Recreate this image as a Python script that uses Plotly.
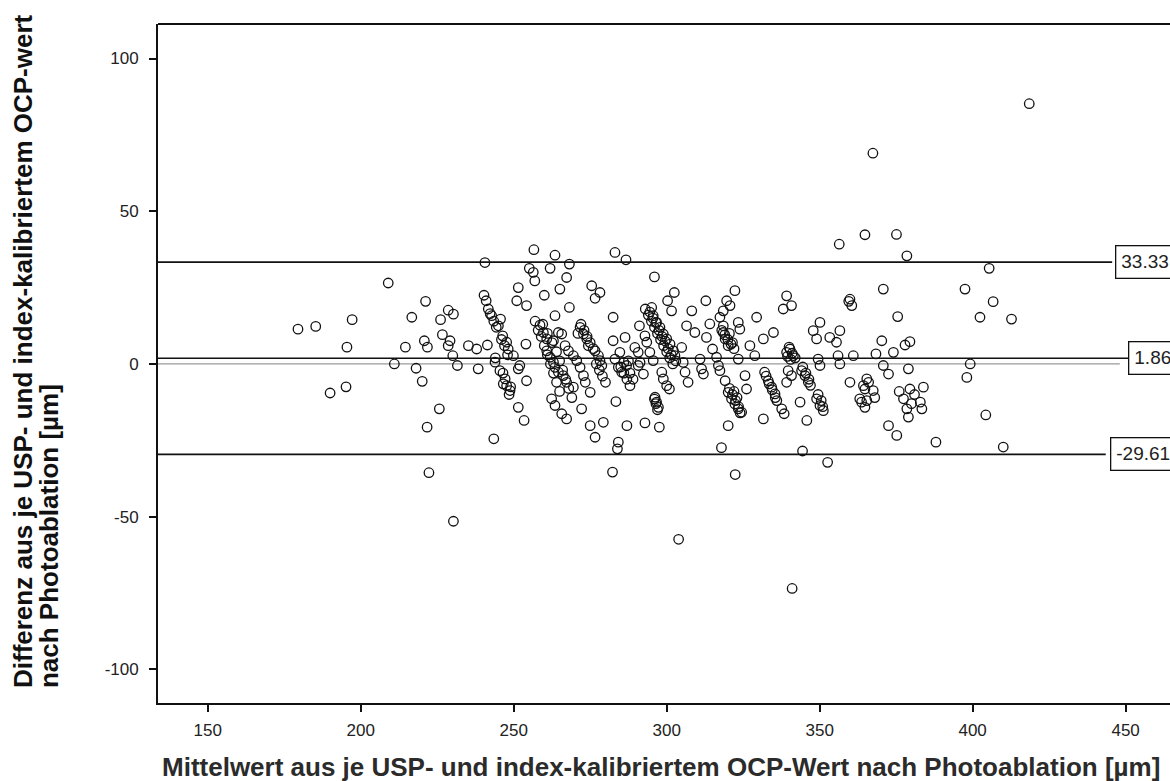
import plotly.graph_objects as go

# Bland-Altman: mean of the two OCP readings (x) vs. their difference (y), in µm
mean_left = [179.5, 185.3, 190.0, 195.2, 195.5, 197.2, 209.0, 211.0, 214.6, 216.7,
             218.1, 220.1, 220.8, 221.2, 221.7, 221.8, 222.3, 225.7, 226.1, 226.7,
             228.6, 228.6, 229.2, 230.1, 230.3, 230.3, 231.6, 235.2, 237.9, 238.4]
diff_left = [11.4, 12.3, -9.5, -7.5, 5.5, 14.5, 26.5, 0.0, 5.5, 15.3,
             -1.4, -5.7, 7.6, 20.5, -20.7, 5.5, -35.6, -14.7, 14.5, 9.6,
             17.6, 6.0, 7.6, 2.7, 16.3, -51.5, -0.5, 6.0, 4.9, -1.6]

mean_a = [240.6, 240.3, 241.0, 241.7, 242.8, 245.7, 245.0, 246.4, 247.7, 241.4,
          248.2, 249.9, 243.9, 245.5, 247.2, 246.6, 248.8, 247.7, 251.5, 252.0,
          254.2, 254.0, 251.5, 251.0, 254.2, 251.5, 253.4, 243.5, 242.3, 243.5,
          244.3, 246.0, 247.0, 248.0, 244.0, 246.5, 249.0, 248.5]
diff_a = [33.2, 22.5, 20.7, 18.0, 15.8, 14.7, 12.5, 9.2, 7.1, 6.2,
          4.9, 2.7, 0.6, -2.2, -4.9, -6.5, -8.7, -7.1, -1.6, -0.5,
          -5.5, 6.5, 25.0, 20.7, 19.1, -14.2, -18.5, -24.5, 16.5, 14.0,
          12.0, 8.0, 6.0, 3.0, 2.0, -3.0, -7.5, -10.0]

mean_b = [256.6, 255.1, 256.4, 256.9, 261.9, 263.5, 268.2, 267.3, 265.1, 260.0,
          268.2, 263.5, 258.6, 259.7, 260.8, 263.0, 264.6, 265.7, 266.8, 267.9,
          269.5, 260.8, 261.9, 263.0, 263.5, 264.6, 266.2, 267.3, 269.5, 262.4,
          263.5, 265.7, 267.3, 257.0, 258.0, 259.0, 260.0, 261.0, 262.0, 263.0,
          264.0, 265.0, 259.5, 261.0, 262.5, 264.0, 265.0, 266.0, 267.0, 268.0,
          269.0]
diff_b = [37.4, 31.3, 30.0, 27.2, 31.3, 35.6, 32.7, 28.3, 24.5, 22.5,
          18.5, 15.8, 12.7, 10.3, 8.2, 7.6, 10.3, 9.8, 6.0, 4.3,
          2.7, 4.3, 2.2, 0.5, -1.1, -2.7, -3.8, -6.0, -7.6, -11.4,
          -13.6, -16.3, -18.0, 14.0, 11.0, 9.0, 6.0, 3.0, 0.0, -3.0,
          -6.0, -9.0, 13.0, 10.0, 7.0, 4.0, 1.0, -2.0, -5.0, -8.0,
          -11.0]

mean_c = [271.7, 272.8, 273.9, 274.4, 270.6, 271.7, 272.8, 273.4, 275.0, 272.2,
          275.0, 276.6, 279.3, 284.2, 283.9, 282.3, 275.5, 278.2, 276.6, 282.5,
          276.6, 277.7, 278.2, 278.8, 282.5, 284.7, 283.1, 284.2, 285.3, 283.4,
          287.0, 283.1, 286.7, 286.4, 289.6, 290.7, 286.9, 290.7, 288.0, 272.0,
          273.0, 274.0, 275.0, 276.0, 271.0, 278.0, 279.0, 280.0, 277.0, 285.0,
          286.0, 287.0, 286.0, 288.0, 289.0, 287.5]
diff_c = [12.0, 9.8, 8.2, 6.0, 1.1, -1.1, -3.8, -6.0, -9.3, -14.7,
          -20.2, -24.0, -19.1, -25.6, -27.8, -35.4, 25.6, 23.4, 21.5, 15.3,
          4.3, 2.7, 1.1, -0.5, 7.6, 3.8, 1.6, -1.1, -2.7, -12.3,
          -20.2, 36.5, 34.1, 8.7, 5.4, 3.8, -0.5, -0.5, -7.1, 13.0,
          11.0, 9.0, 7.0, 5.0, 10.0, -2.0, -4.0, -6.0, 0.0, -1.0,
          -3.0, -5.0, 0.5, -3.0, -5.0, 1.0]

mean_d = [296.0, 302.5, 300.3, 301.6, 295.1, 295.6, 296.7, 297.8, 298.9, 300.0,
          301.1, 302.2, 302.7, 291.1, 292.9, 293.5, 294.5, 291.3, 295.6, 292.4,
          298.4, 298.9, 300.0, 300.9, 296.2, 296.7, 297.3, 292.9, 297.6, 304.9,
          305.4, 306.0, 307.0, 306.5, 308.2, 312.8, 309.2, 310.9, 311.4, 312.0,
          313.0, 314.1, 303.9, 293.0, 294.0, 295.0, 296.0, 297.0, 298.0, 299.0,
          300.0, 301.0, 302.0, 294.5, 295.5, 296.5, 297.5, 298.5, 299.5, 300.5,
          301.5, 303.0, 296.0, 296.5, 297.0]
diff_d = [28.5, 23.4, 20.7, 17.4, 18.5, 15.8, 13.6, 12.0, 9.8, 8.2,
          6.5, 4.3, 2.7, 12.5, 9.2, 7.1, 3.8, 0.5, 1.1, -3.3,
          -2.7, -4.9, -7.1, -8.2, -10.9, -12.5, -14.2, -19.3, -20.7, 5.4,
          0.5, -2.7, -6.0, 12.5, 17.4, 20.7, 10.3, 1.6, -1.6, -3.3,
          8.7, 13.1, -57.4, 18.0, 16.0, 14.0, 12.0, 10.0, 8.0, 6.0,
          4.0, 2.0, 0.0, 17.0, 15.0, 13.5, 11.0, 9.0, 7.5, 5.0,
          3.0, 1.0, -11.5, -13.0, -15.0]

mean_e = [315.0, 316.3, 316.9, 317.4, 319.1, 320.1, 321.2, 322.3, 323.4, 324.5,
          320.1, 317.9, 322.4, 317.4, 318.5, 319.6, 322.3, 320.7, 318.5, 319.1,
          320.1, 323.4, 323.9, 323.4, 325.6, 326.1, 327.2, 329.4, 328.8, 331.6,
          334.9, 332.0, 333.2, 334.3, 335.4, 336.0, 337.6, 331.6, 338.4, 339.2,
          340.3, 341.4, 339.7, 340.8, 339.2, 338.1, 339.2, 340.8, 344.1, 341.0,
          318.0, 319.0, 320.0, 321.0, 322.0, 318.5, 320.5, 321.5, 320.5, 321.5,
          322.5, 323.5, 324.0, 322.0, 323.0, 332.5, 333.5, 334.5, 335.5, 340.0,
          341.0, 342.0, 340.5, 339.5]
diff_e = [4.9, 2.2, -0.5, -2.2, -5.5, -9.3, -11.4, -13.1, -14.7, -15.8,
          -20.2, -27.4, -36.2, 15.3, 17.4, 20.7, 24.0, 19.1, 10.3, 8.2,
          6.0, 13.6, 11.4, 1.6, -3.8, -8.2, 6.0, 15.3, 2.7, 8.2,
          10.3, -2.7, -5.5, -7.6, -9.8, -12.0, -14.7, -18.0, -16.3, 3.8,
          4.9, 2.7, -2.2, -3.8, -6.0, 18.0, 22.3, 19.1, -2.2, -73.5,
          11.0, 9.5, 8.0, 6.5, 5.0, 12.5, 10.0, 7.0, -8.0, -10.0,
          -12.0, -14.0, -16.0, -9.0, -11.0, -4.0, -6.5, -8.5, -11.0, 5.5,
          3.5, 2.0, 1.5, 2.5]

mean_f = [345.2, 346.3, 343.6, 345.8, 344.4, 347.9, 350.1, 349.0, 349.5, 350.1,
          349.0, 350.1, 351.2, 352.6, 353.3, 356.6, 355.5, 356.0, 356.6, 359.9,
          360.5, 361.0, 359.9, 365.4, 364.3, 363.7, 365.4, 364.8, 356.4, 364.8,
          367.4, 364.8, 367.5, 363.1, 368.4, 344.5, 345.5, 346.5, 347.0, 349.5,
          350.5, 351.0, 359.5]
diff_f = [-3.8, -6.0, -12.5, -18.5, -28.5, 10.9, 13.6, 8.2, 1.6, -0.5,
          -11.4, -13.6, -15.3, -32.2, 8.7, 10.9, 7.1, 2.7, 0.0, 21.2,
          19.1, 2.7, -6.0, -4.9, -7.1, -12.5, -12.0, -14.2, 39.2, 42.3,
          69.0, -8.2, -8.7, -11.4, 3.3, -1.0, -3.0, -5.0, -7.0, -10.0,
          -12.0, -14.0, 20.5]

mean_g = [370.8, 375.1, 378.5, 375.5, 379.5, 377.9, 370.3, 374.1, 370.8, 372.5,
          379.0, 383.9, 379.5, 377.4, 382.9, 378.5, 383.4, 379.0, 372.5, 375.2,
          388.0, 397.5, 399.2, 398.1, 402.4, 405.4, 406.7, 404.3, 410.0, 412.7,
          418.5, 366.0, 368.0, 376.0, 381.0, 380.0]
diff_g = [24.5, 42.4, 35.4, 15.5, 7.3, 6.2, 7.6, 3.8, -0.5, -3.3,
          -1.6, -7.6, -8.2, -11.4, -12.5, -14.7, -14.7, -17.4, -20.2, -23.4,
          -25.6, 24.5, 0.0, -4.4, 15.3, 31.3, 20.4, -16.7, -27.2, 14.7,
          85.2, -6.0, -11.0, -9.0, -10.0, -13.0]

# Mean difference and limits of agreement
mean_difference = 1.86
upper_limit = 33.33
lower_limit = -29.61

x_tick_values = [150, 200, 250, 300, 350, 400, 450]
y_tick_values = [-100, -50, 0, 50, 100]
y_tick_labels = ["-100", "-50", "0", "50", "100"]

x_title = "Mittelwert aus je USP- und index-kalibriertem OCP-Wert nach Photoablation [µm]"
y_title_lines = ["Differenz aus je USP- und index-kalibriertem OCP-wert",
                 "nach Photoablation [µm]"]

mean_groups = [mean_left, mean_a, mean_b, mean_c, mean_d, mean_e, mean_f, mean_g]
diff_groups = [diff_left, diff_a, diff_b, diff_c, diff_d, diff_e, diff_f, diff_g]
for m, d in zip(mean_groups, diff_groups):
    assert len(m) == len(d)
mean_all = [v for g in mean_groups for v in g]
diff_all = [v for g in diff_groups for v in g]

FONT = "Liberation Sans, Arial, Helvetica, sans-serif"
X_RANGE = [133.75, 464.5]
Y_RANGE = [-111.0, 111.3]

fig = go.Figure()
fig.add_trace(go.Scatter(
    x=mean_all, y=diff_all, mode="markers",
    marker=dict(symbol="circle-open", size=9.5, color="#111111",
                line=dict(width=1.3)),
    showlegend=False, hoverinfo="skip",
))

# Horizontal reference lines ending at their value boxes
line_specs = [
    (0.0, 448.1, "#9a9a9a", 1.2),
    (mean_difference, 450.8, "#111111", 1.6),
    (upper_limit, 445.6, "#111111", 1.6),
    (lower_limit, 443.5, "#111111", 1.6),
]
shapes = []
for yv, x_end, col, w in line_specs:
    shapes.append(dict(type="line", xref="x", yref="y", x0=X_RANGE[0], x1=x_end,
                       y0=yv, y1=yv, line=dict(color=col, width=w), layer="below"))
# top frame line
shapes.append(dict(type="line", xref="paper", yref="paper", x0=0, x1=1, y0=1, y1=1,
                   line=dict(color="#111111", width=1.8)))

annotations = []
box_specs = [(upper_limit, 446.5), (mean_difference, 450.8), (lower_limit, 444.9)]
for yv, x_left in box_specs:
    annotations.append(dict(
        x=x_left, y=yv, xref="x", yref="y", xanchor="left", yanchor="middle",
        text=f"{yv:.2f}", showarrow=False,
        font=dict(family=FONT, size=19, color="#222222"),
        bgcolor="white", bordercolor="#111111", borderwidth=1.3, borderpad=5,
    ))

annotations.append(dict(
    x=0.497, y=-0.094, xref="paper", yref="paper", xanchor="center", yanchor="middle",
    text=f"<b>{x_title}</b>", showarrow=False,
    font=dict(family=FONT, size=26, color="#2b2b2b"),
))
for xp, line in zip([-0.1334, -0.1077], y_title_lines):
    annotations.append(dict(
        x=xp, y=0.0191, xref="paper", yref="paper", xanchor="center", yanchor="bottom",
        text=f"<b>{line}</b>", textangle=-90, showarrow=False,
        font=dict(family=FONT, size=26, color="#111111"),
    ))

axis_common = dict(
    showgrid=False, zeroline=False, showline=True, linecolor="#111111", linewidth=1.8,
    ticks="outside", ticklen=7, tickwidth=1.5, tickcolor="#111111",
    tickfont=dict(family=FONT, size=17, color="#222222"),
)

fig.update_layout(
    width=1170, height=781,
    margin=dict(l=158, r=0, t=24, b=78),
    paper_bgcolor="white", plot_bgcolor="white",
    xaxis=dict(range=X_RANGE, tickvals=x_tick_values, ticklabelstandoff=4, **axis_common),
    yaxis=dict(range=Y_RANGE, tickvals=y_tick_values, ticktext=y_tick_labels,
               ticklabelstandoff=7, **axis_common),
    shapes=shapes, annotations=annotations,
)

fig.write_html("out.html")
